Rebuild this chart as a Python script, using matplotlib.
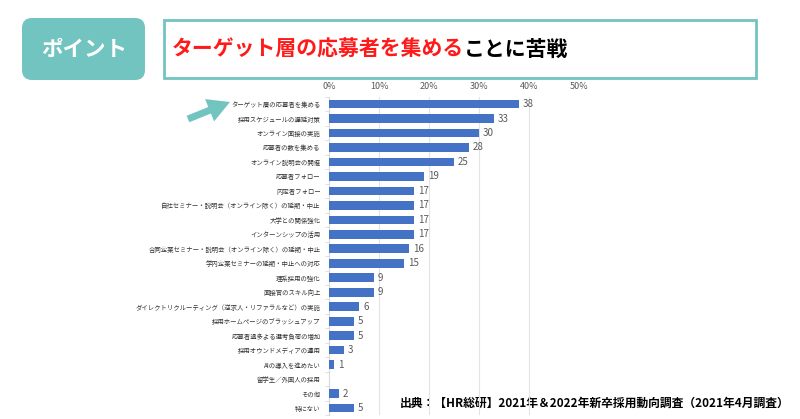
import numpy as np
import matplotlib.pyplot as plt
from matplotlib.patches import FancyBboxPatch, Rectangle, FancyArrow

plt.rcParams['font.family'] = ['Noto Sans CJK JP', 'DejaVu Sans']

labels = ['ターゲット層の応募者を集める', '採用スケジュールの遅延対策', 'オンライン面接の実施',
          '応募者の数を集める', 'オンライン説明会の開催', '応募者フォロー', '内定者フォロー',
          '自社セミナー・説明会（オンライン除く）の延期・中止', '大学との関係強化',
          'インターンシップの活用', '合同企業セミナー・説明会（オンライン除く）の延期・中止',
          '学内企業セミナーの延期・中止への対応', '理系採用の強化', '面接官のスキル向上',
          'ダイレクトリクルーティング（逆求人・リファラルなど）の実施',
          '採用ホームページのブラッシュアップ', '応募者過多よる選考負荷の増加',
          '採用オウンドメディアの運用', 'AIの導入を進めたい', '留学生／外国人の採用',
          'その他', '特にない']
values = [38, 33, 30, 28, 25, 19, 17, 17, 17, 17, 16, 15, 9, 9, 6, 5, 5, 3, 1, 0, 2, 5]
xticks = [0, 10, 20, 30, 40, 50]

W, H = 800, 419
teal = '#72C4C0'
fig = plt.figure(figsize=(W / 100, H / 100), dpi=100)

# background layer in pixel coordinates
bg = fig.add_axes([0, 0, 1, 1])
bg.set_xlim(0, W)
bg.set_ylim(H, 0)
bg.axis('off')

bg.add_patch(FancyBboxPatch((22, 18), 123, 62, boxstyle='round,pad=0,rounding_size=10',
                            fc=teal, ec='none'))
bg.text(84, 49, 'ポイント', color='white', fontsize=15.5, fontweight='bold',
        ha='center', va='center')
bg.add_patch(Rectangle((164, 20), 592, 58, fc='white', ec=teal, lw=2))
t1 = bg.text(172, 49, 'ターゲット層の応募者を集める', color='#FF1A1A', fontsize=15,
             fontweight='bold', ha='left', va='center')
bg.annotate('ことに苦戦', xy=(1, 0.5), xycoords=t1, color='black', fontsize=15,
            fontweight='bold', ha='left', va='center')
bg.add_patch(FancyArrow(188, 119, 42, -17, width=7, head_width=24, head_length=22,
                        length_includes_head=True, fc=teal, ec='none'))
bg.text(790, 403, '出典：【HR総研】2021年＆2022年新卒採用動向調査（2021年4月調査）',
        fontsize=8.5, fontweight='bold', ha='right', va='center')

# bar chart
ax = fig.add_axes([329 / W, 1 - 415.3 / H, 250 / W, 318.5 / H])
ax.set_facecolor('none')
y = np.arange(len(labels))
ax.barh(y, values, height=0.6, color='#4472C4', zorder=3)
for yi, v in zip(y, values):
    if v > 0:
        ax.text(v + 0.8, yi, str(v), va='center', ha='left', fontsize=7, color='#595959')

ax.set_xlim(0, 50)
ax.set_ylim(len(labels) - 0.5, -0.5)
ax.xaxis.tick_top()
ax.set_xticks(xticks)
ax.set_xticklabels([f'{t}%' for t in xticks], fontsize=6.5, color='#595959')
ax.tick_params(axis='x', length=0, pad=4)
ax.set_yticks(y)
ax.set_yticklabels(labels, fontsize=4.6, color='#333333')
ax.tick_params(axis='y', length=0, pad=6)
ax.set_yticks(np.arange(-0.5, len(labels), 1), minor=True)
ax.tick_params(axis='y', which='minor', length=3, color='#D9D9D9')
ax.xaxis.grid(True, color='#E3E3E3', lw=0.8)
ax.set_axisbelow(True)
for s in ['top', 'right', 'bottom']:
    ax.spines[s].set_visible(False)
ax.spines['left'].set_color('#D9D9D9')

fig.savefig('out.png', dpi=100)
